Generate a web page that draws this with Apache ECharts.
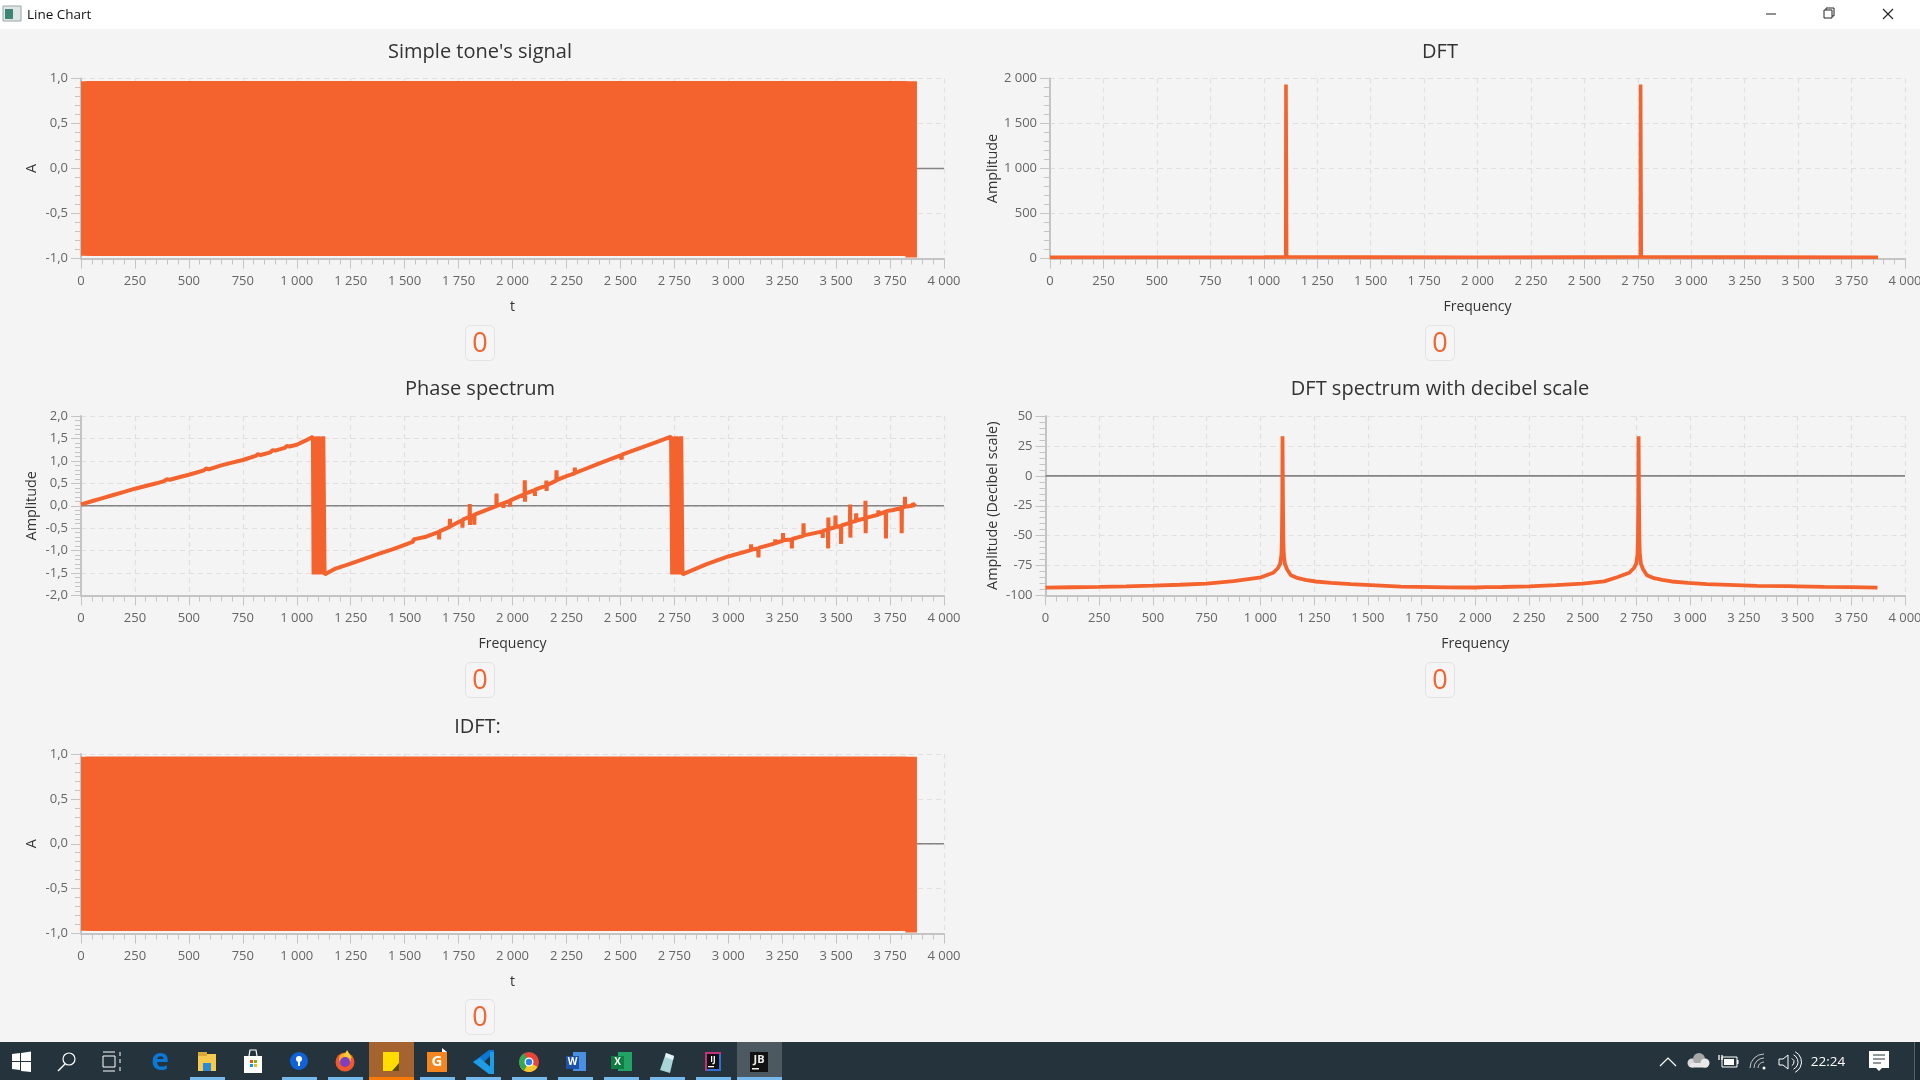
<!DOCTYPE html>
<html>
<head>
<meta charset="utf-8">
<title>Line Chart</title>
<style>html,body{margin:0;padding:0;background:#f4f4f4;overflow:hidden}#c{width:1920px;height:1080px}</style>
<script src="https://cdn.jsdelivr.net/npm/echarts@6/dist/echarts.min.js"></script>
</head>
<body>
<div id="c"></div>
<script>
// ---------- chart data ----------
const signalTimes = [
  27,27,50,75,100,125,150,175,200,225,
  250,275,300,325,350,375,400,425,450,475,
  500,525,550,575,600,625,650,675,700,725,
  750,775,800,825,850,875,900,925,950,975,
  1000,1025,1050,1075,1100,1125,1150,1175,1200,1225,
  1250,1275,1300,1325,1350,1375,1400,1425,1450,1475,
  1500,1525,1550,1575,1600,1625,1650,1675,1700,1725,
  1750,1775,1800,1825,1850,1875,1900,1925,1950,1975,
  2000,2025,2050,2075,2100,2125,2150,2175,2200,2225,
  2250,2275,2300,2325,2350,2375,2400,2425,2450,2475,
  2500,2525,2550,2575,2600,2625,2650,2675,2700,2725,
  2750,2775,2800,2825,2850,2875,2900,2925,2950,2975,
  3000,3025,3050,3075,3100,3125,3150,3175,3200,3225,
  3250,3275,3300,3325,3350,3375,3400,3425,3450,3475,
  3500,3525,3550,3575,3600,3625,3650,3675,3700,3725,
  3750,3775,3800,3825,3848,3848];
const signalValues = [
  0.97,-0.97,0.97,-0.97,0.97,-0.97,0.97,-0.97,0.97,-0.97,
  0.97,-0.97,0.97,-0.97,0.97,-0.97,0.97,-0.97,0.97,-0.97,
  0.97,-0.97,0.97,-0.97,0.97,-0.97,0.97,-0.97,0.97,-0.97,
  0.97,-0.97,0.97,-0.97,0.97,-0.97,0.97,-0.97,0.97,-0.97,
  0.97,-0.97,0.97,-0.97,0.97,-0.97,0.97,-0.97,0.97,-0.97,
  0.97,-0.97,0.97,-0.97,0.97,-0.97,0.97,-0.97,0.97,-0.97,
  0.97,-0.97,0.97,-0.97,0.97,-0.97,0.97,-0.97,0.97,-0.97,
  0.97,-0.97,0.97,-0.97,0.97,-0.97,0.97,-0.97,0.97,-0.97,
  0.97,-0.97,0.97,-0.97,0.97,-0.97,0.97,-0.97,0.97,-0.97,
  0.97,-0.97,0.97,-0.97,0.97,-0.97,0.97,-0.97,0.97,-0.97,
  0.97,-0.97,0.97,-0.97,0.97,-0.97,0.97,-0.97,0.97,-0.97,
  0.97,-0.97,0.97,-0.97,0.97,-0.97,0.97,-0.97,0.97,-0.97,
  0.97,-0.97,0.97,-0.97,0.97,-0.97,0.97,-0.97,0.97,-0.97,
  0.97,-0.97,0.97,-0.97,0.97,-0.97,0.97,-0.97,0.97,-0.97,
  0.97,-0.97,0.97,-0.97,0.97,-0.97,0.97,-0.97,0.97,-0.97,
  0.97,-0.97,0.97,-0.97,0.97,-0.99];
const idftTimes = signalTimes;
const idftValues = signalValues;

const dftFreq = [0,500,1000,1103,1104,1106,1107,1500,2000,2500,2762,2763,2765,2766,3250,3874];
const dftAmp  = [14,14,15,16,1934,1934,16,15,14,15,16,1934,1934,16,15,14];

const phaseRampA = [[0,0.03],[50,0.10],[100,0.17],[150,0.24],[200,0.31],[250,0.38],[300,0.44],[350,0.50],[385,0.55],[397,0.59],[412,0.58],[450,0.63],[500,0.69],[570,0.79],[580,0.83],[592,0.81],[650,0.90],[700,0.96],[750,1.02],[810,1.11],[820,1.15],[832,1.13],[878,1.19],[888,1.24],[900,1.23],[944,1.29],[954,1.33],[966,1.32],[1000,1.36],[1040,1.45],[1075,1.54]];
const phaseBandA = [[1078,-1.53],[1084,1.54],[1091,-1.53],[1097,1.55],[1104,-1.53],[1110,1.54],[1116,-1.53],[1123,1.55],[1129,-1.53]];
const phaseRampB = [[1180,-1.40],[1250,-1.29],[1316,-1.18],[1317,-1.14],[1325,-1.16],[1386,-1.06],[1387,-1.03],[1395,-1.04],[1450,-0.96],[1500,-0.87],[1540,-0.80],[1541,-0.75],[1550,-0.78],[1600,-0.69],[1659,-0.58],[1660,-0.75],[1661,-0.57],[1709,-0.47],[1710,-0.29],[1711,-0.46],[1750,-0.36],[1767,-0.33],[1768,-0.49],[1769,-0.31],[1801,-0.25],[1802,0.04],[1803,-0.43],[1804,-0.24],[1822,-0.21],[1823,-0.42],[1824,-0.20],[1880,-0.09],[1925,-0.01],[1926,0.27],[1927,0.00],[1957,0.05],[1958,-0.05],[1959,0.06],[1988,0.11],[1989,-0.02],[1990,0.12],[2056,0.26],[2057,0.57],[2058,0.09],[2059,0.27],[2103,0.35],[2104,0.22],[2105,0.36],[2156,0.45],[2157,0.56],[2158,0.33],[2159,0.46],[2203,0.56],[2204,0.79],[2205,0.57],[2250,0.66],[2288,0.72],[2289,0.85],[2290,0.73],[2400,0.94],[2500,1.12],[2505,1.13],[2506,1.03],[2507,1.14],[2600,1.30],[2680,1.44],[2735,1.54]];
const phaseBandB = [[2740,-1.53],[2746,1.54],[2752,-1.53],[2758,1.55],[2764,-1.53],[2770,1.54],[2776,-1.53],[2782,1.55],[2788,-1.53]];
const phaseRampC = [[2900,-1.30],[3000,-1.13],[3105,-0.99],[3106,-0.86],[3107,-0.98],[3139,-0.95],[3140,-1.15],[3141,-0.94],[3217,-0.84],[3218,-0.75],[3219,-0.83],[3253,-0.78],[3254,-0.61],[3255,-0.77],[3294,-0.75],[3295,-0.95],[3296,-0.74],[3348,-0.67],[3349,-0.39],[3350,-0.66],[3400,-0.61],[3437,-0.57],[3438,-0.72],[3439,-0.56],[3462,-0.53],[3463,-0.95],[3464,-0.26],[3465,-0.52],[3496,-0.48],[3497,-0.22],[3498,-0.47],[3522,-0.45],[3523,-0.85],[3524,-0.44],[3564,-0.38],[3565,0.03],[3566,-0.71],[3567,-0.37],[3592,-0.34],[3593,-0.17],[3594,-0.33],[3635,-0.28],[3636,0.11],[3637,-0.61],[3638,-0.27],[3695,-0.20],[3696,-0.10],[3697,-0.19],[3730,-0.13],[3731,-0.73],[3732,-0.12],[3760,-0.10],[3803,-0.05],[3804,-0.61],[3805,-0.04],[3818,-0.03],[3819,0.20],[3820,-0.02],[3854,0.00],[3855,0.05],[3868,-0.01]];

const dbFreq = [0,125,250,375,500,625,750,875,1003,1060,1082,1092,1098,1100,1102,1103,1104,1105,1107,1109,1114,1124,1142,1175,1210,1257,1330,1421,1654,1800,1801,1875,2000,2050,2051,2125,2250,2375,2500,2600,2660,2717,2739,2749,2755,2757,2759,2760,2761,2762,2764,2766,2771,2781,2799,2832,2870,2914,2990,3078,3311,3460,3461,3500,3625,3750,3872];
const dbValues = [-93.4,-93.1,-92.8,-92.4,-91.8,-91,-90,-88,-84.8,-81,-77,-73.5,-66,-55,-20,33,33,-20,-55,-66,-73.5,-78,-83,-85.5,-87,-88.3,-89.4,-90.5,-92.6,-93,-94,-93.2,-93.3,-93,-92.2,-92.9,-92.3,-91.3,-90,-88.2,-84.8,-81,-77,-73.5,-66,-55,-20,33,33,-20,-55,-66,-73.5,-78,-83,-85.5,-87,-88.3,-89.4,-90.5,-92,-92.2,-90.8,-92.3,-92.8,-93,-93.4];

const chartTitles = ["Simple tone's signal","DFT","Phase spectrum","DFT spectrum with decibel scale","IDFT:"];
const xAxisNames = ["t","Frequency","Frequency","Frequency","t"];
const yAxisNames = ["A","Amplitude","Amplitude","Amplitude (Decibel scale)","A"];
const counterValues = ["0","0","0","0","0"];
const windowTitle = "Line Chart";
const clockText = "22:24";

// ---------- layout and styles ----------
const ORANGE = '#f4632d';
const GRAY_AXIS = '#c4c4c4';
const FONT = '"Open Sans", sans-serif';
const BG = '#f4f4f4';

function zip(a,b){return a.map((v,i)=>[v,b[i]]);}
const phaseData = [].concat(phaseRampA,phaseBandA,phaseRampB,phaseBandB,phaseRampC);

const panels = [
  {left:81,   top:78.5, width:863,  height:180, yMin:-1,   yMax:1,    yStep:0.5, dec:1, nameGap:42, zero:true,  titleX:480,  titleY:52,  pillX:480,  pillY:343, data:zip(signalTimes,signalValues), lineW:11.5},
  {left:1050, top:78.5, width:855,  height:180, yMin:0,    yMax:2000, yStep:500, dec:0, nameGap:50.5, zero:false, titleX:1440, titleY:52,  pillX:1440, pillY:343, data:zip(dftFreq,dftAmp), lineW:3.6},
  {left:81,   top:416,  width:863,  height:179.5,yMin:-2,  yMax:2,    yStep:0.5, dec:1, nameGap:42, zero:true,  titleX:480,  titleY:389, pillX:480,  pillY:680, data:phaseData, lineW:4},
  {left:1045.5,top:416, width:859.5,height:179.5,yMin:-100,yMax:50,   yStep:25,  dec:0, nameGap:45.5, zero:true,  titleX:1440, titleY:389, pillX:1440, pillY:680, data:zip(dbFreq,dbValues), lineW:3.8},
  {left:81,   top:754,  width:863,  height:179.5,yMin:-1,  yMax:1,    yStep:0.5, dec:1, nameGap:42, zero:true,  titleX:477.5,titleY:727, pillX:480,  pillY:1017,data:zip(idftTimes,idftValues), lineW:11.5}
];

function fmtThousands(v){
  const s=String(Math.abs(v));
  const t=s.replace(/\B(?=(\d{3})+(?!\d))/g,' ');
  return (v<0?'-':'')+t;
}
function splitStyle(){return {show:true,lineStyle:{color:'#e0e0e0',width:1.2,type:[5,4]}};}

const grids=[],xAxes=[],yAxes=[],series=[],titles=[];
panels.forEach((p,i)=>{
  grids.push({left:p.left,top:p.top,width:p.width,height:p.height,containLabel:false,outerBoundsMode:'none'});
  xAxes.push({type:'value',gridIndex:i,min:0,max:4000,interval:250,
    name:xAxisNames[i],nameLocation:'middle',nameGap:42,
    nameTextStyle:{color:'#333',fontFamily:FONT,fontSize:14},
    axisLine:{show:true,onZero:false,lineStyle:{color:GRAY_AXIS,width:2}},
    axisTick:{show:true,length:10,lineStyle:{color:GRAY_AXIS,width:1}},
    minorTick:{show:true,splitNumber:5,length:6,lineStyle:{color:GRAY_AXIS,width:1}},
    axisLabel:{show:true,margin:16,color:'#666',fontFamily:FONT,fontSize:13,formatter:fmtThousands,hideOverlap:false},
    splitLine:splitStyle()});
  yAxes.push({type:'value',gridIndex:i,min:p.yMin,max:p.yMax,interval:p.yStep,
    name:yAxisNames[i],nameLocation:'middle',nameGap:p.nameGap,
    nameTextStyle:{color:'#333',fontFamily:FONT,fontSize:14.4},
    axisLine:{show:true,onZero:false,lineStyle:{color:GRAY_AXIS,width:2}},
    axisTick:{show:true,length:10,lineStyle:{color:GRAY_AXIS,width:1}},
    minorTick:{show:true,splitNumber:5,length:6,lineStyle:{color:GRAY_AXIS,width:1}},
    axisLabel:{show:true,margin:13,color:'#666',fontFamily:FONT,fontSize:13,hideOverlap:false,
      formatter:v=>p.dec?v.toFixed(p.dec).replace('.',','):fmtThousands(v)},
    splitLine:splitStyle()});
  if(p.zero){
    series.push({type:'line',xAxisIndex:i,yAxisIndex:i,data:[[0,0],[4000,0]],symbol:'none',z:1,silent:true,
      lineStyle:{color:'#858585',width:1.6},animation:false});
  }
  series.push({type:'line',xAxisIndex:i,yAxisIndex:i,data:p.data,symbol:'none',showSymbol:false,z:3,
    sampling:null,silent:true,animation:false,
    lineStyle:{color:ORANGE,width:p.lineW,join:'bevel',cap:'butt'}});
  titles.push({text:chartTitles[i],left:p.titleX,top:p.titleY-14,textAlign:'center',padding:0,
    textStyle:{color:'#333',fontFamily:FONT,fontSize:20,fontWeight:'normal',lineHeight:28}});
});

// ---------- window chrome and counters ----------
const g=[];
const R=(x,y,w,h,fill,extra)=>g.push(Object.assign({type:'rect',shape:{x,y,width:w,height:h,r:(extra&&extra.r)||0},style:Object.assign({fill},(extra&&extra.style)||{}),silent:true},extra&&extra.top?{z:extra.top}:{}));
const L=(pts,stroke,w)=>g.push({type:'polyline',shape:{points:pts},style:{stroke,fill:'none',lineWidth:w||1},silent:true});
const P=(pts,fill)=>g.push({type:'polygon',shape:{points:pts},style:{fill},silent:true});
const C=(x,y,r,fill)=>g.push({type:'circle',shape:{cx:x,cy:y,r},style:{fill},silent:true});
const T=(x,y,text,color,size,align,weight)=>g.push({type:'text',x,y,style:{text,fill:color,fontFamily:FONT,fontSize:size,fontWeight:weight||'normal',textAlign:align||'left',textVerticalAlign:'middle'},silent:true});

// title bar
R(0,0,1920,29,'#ffffff');
R(3,6,18,15,'#dfe6e6',{style:{stroke:'#9aa4a8',lineWidth:1}});
R(5,9,8,10,'#3f8573');
T(27,15,windowTitle,'#111',13.5);
L([[1766,14],[1776,14]],'#222',1);
R(1824,10,8,8,'none',{style:{stroke:'#222',lineWidth:1}});
L([[1826,10],[1826,8],[1834,8],[1834,16],[1832,16]],'#222',1);
L([[1883,9],[1893,19]],'#222',1.1);
L([[1893,9],[1883,19]],'#222',1.1);

// counters
panels.forEach((p,i)=>{
  R(p.pillX-14.5,p.pillY-17.5,29,35,'#f5f5f5',{r:5,style:{stroke:'#e3e3e3',lineWidth:1}});
  T(p.pillX,p.pillY+1,counterValues[i],ORANGE,27,'center');
});

// task bar
R(0,1042,1920,38,'#25343c');
R(1914,1042,6,38,'#1e2c35');
R(1914,1042,1,38,'#56616a');
R(369,1042,45,38,'#a5642f');
R(369,1077,45,3,'#ff7a00');
R(737,1042,45,38,'#4c5960');
[[190,35],[282,35],[328,35],[420,35],[466,35],[512,35],[558,35],[604,35],[650,35],[696,35],[737,45]].forEach(a=>R(a[0],1077,a[1],3,'#76b9ed'));
// start
P([[12,1054],[20,1053],[20,1061],[12,1061]],'#fff');P([[21,1053],[31,1051.5],[31,1061],[21,1061]],'#fff');
P([[12,1062],[20,1062],[20,1070],[12,1069]],'#fff');P([[21,1062],[31,1062],[31,1072],[21,1071]],'#fff');
// search
g.push({type:'circle',shape:{cx:69,cy:1059,r:6},style:{fill:'none',stroke:'#fff',lineWidth:1.2},silent:true});
L([[65,1064],[58,1071]],'#fff',1.4);
// task view
R(103,1056,12,11,'none',{style:{stroke:'#fff',lineWidth:1}});
L([[103,1052],[115,1052]],'#fff',1);L([[103,1071],[115,1071]],'#fff',1);
L([[120,1052],[120,1056]],'#fff',1);L([[120,1059],[120,1063]],'#fff',1);L([[120,1067],[120,1071]],'#fff',1);
// edge
T(160,1061,'e','#0a78d4',30,'center','bold');
// explorer
R(198,1054,18,17,'#f6c94f');R(198,1052,9,4,'#d9a93a');R(203,1063,8,8,'#2a8ad6');
// store
R(244,1056,18,17,'#ffffff');L([[249,1056],[250,1050],[256,1050],[257,1056]],'#fff',1.2);
R(250,1060,3,3,'#f25022');R(254,1060,3,3,'#7fba00');R(250,1064,3,3,'#00a4ef');R(254,1064,3,3,'#ffb900');
// maps
C(299,1061,9,'#0f62d8');C(299,1059,3,'#fff');R(298,1061,2,5,'#fff');
// firefox
C(345,1062,9.5,'#f0582d');C(345,1059,6,'#ffb02e');C(345,1062,5,'#7b3fc4');P([[347,1050],[352,1058],[344,1056]],'#ffcf3a');
// sticky
R(383,1052,16,19,'#ffdc00');P([[392,1071],[399,1063],[399,1071]],'#5a4a10');
// G
R(427,1052,20,20,'#f5861f');P([[442,1048],[447,1052],[442,1052]],'#fff');T(437,1062,'G','#fff',15,'center','bold');
// vscode
P([[480,1066],[494,1052],[494,1050],[489,1050],[473,1062]],'#0a78d4');P([[473,1062],[489,1074],[494,1074],[494,1070],[480,1058]],'#1f9ce6');R(490,1052,4,20,'#1e9ee8');
// chrome
C(529,1062,10,'#e8453a');g.push({type:'sector',shape:{cx:529,cy:1062,r:10,startAngle:0.52,endAngle:2.6},style:{fill:'#f6c52c'},silent:true});g.push({type:'sector',shape:{cx:529,cy:1062,r:10,startAngle:2.1,endAngle:4.2},style:{fill:'#34a853'},silent:true});C(529,1062,4.5,'#fff');C(529,1062,3.2,'#2d7fe4');
// word
R(573,1052,13,19,'#4a90e2');R(566,1056,13,13,'#1d52a8');T(572.5,1062.5,'W','#fff',10,'center','bold');
// excel
R(618,1052,14,19,'#21a366');R(611,1056,13,13,'#107c41');T(617.5,1062.5,'X','#fff',10,'center','bold');
// notes
P([[660,1070],[666,1053],[674,1056],[670,1073]],'#a8d5d8');P([[666,1053],[674,1056],[673,1060],[665,1057]],'#e4f2f2');
// IntelliJ
R(705,1052,16,19,'#c2337b');R(707,1054,14,17,'#2f6fd6');R(707,1054,12,15,'#111');T(713,1060,'IJ','#fff',8,'center','bold');R(708,1066,6,1.3,'#fff');
// JB
R(750,1052,18,20,'#111');T(759,1059.5,'JB','#eee',11,'center','bold');R(752,1068,7,1.5,'#eee');

// tray
L([[1660,1066],[1668,1058],[1676,1066]],'#fff',1.2);
g.push({type:'circle',shape:{cx:1692,cy:1063,r:4.5},style:{fill:'#d8d8d8'},silent:true});
C(1699,1059,6,'#a7a7a7');C(1705,1063,4.5,'#e8e8e8');R(1690,1063,18,4.5,'#e8e8e8',{r:2});
R(1722,1057,15,10,'none',{style:{stroke:'#fff',lineWidth:1}});R(1724,1059,10,6,'#fff');R(1737,1060,1.5,4,'#fff');L([[1719,1055],[1719,1060]],'#fff',1.3);L([[1722,1055],[1722,1060]],'#fff',1.3);
[[5,0.95],[9,0.95],[13,0.95]].forEach(a=>g.push({type:'arc',shape:{cx:1764,cy:1068,r:a[0]+1,startAngle:Math.PI,endAngle:Math.PI*1.5},style:{stroke:'#ccc',lineWidth:a[1],fill:'none'},silent:true}));
C(1764,1068,1.5,'#fff');
L([[1779,1059],[1783,1059],[1788,1055],[1788,1069],[1783,1065],[1779,1065],[1779,1059]],'#fff',1);
[[3,1],[7,1],[10.5,1]].forEach(a=>g.push({type:'arc',shape:{cx:1790,cy:1062,r:a[0]+1,startAngle:-1.1,endAngle:1.1},style:{stroke:'#fff',lineWidth:1,fill:'none'},silent:true}));
T(1828,1062,clockText,'#fff',13.5,'center');
R(1869,1051,20,17,'#fff');P([[1876,1068],[1879,1071],[1882,1068]],'#fff');
L([[1873,1055],[1885,1055]],'#25343c',1);L([[1873,1059],[1885,1059]],'#25343c',1);L([[1873,1063],[1881,1063]],'#25343c',1);

const chart=echarts.init(document.getElementById('c'),null,{renderer:'canvas'});
chart.setOption({
  animation:false,
  backgroundColor:BG,
  title:titles,
  grid:grids,
  xAxis:xAxes,
  yAxis:yAxes,
  series:series,
  graphic:{elements:g},
  tooltip:{show:false},
  legend:{show:false}
});
</script>
</body>
</html>
